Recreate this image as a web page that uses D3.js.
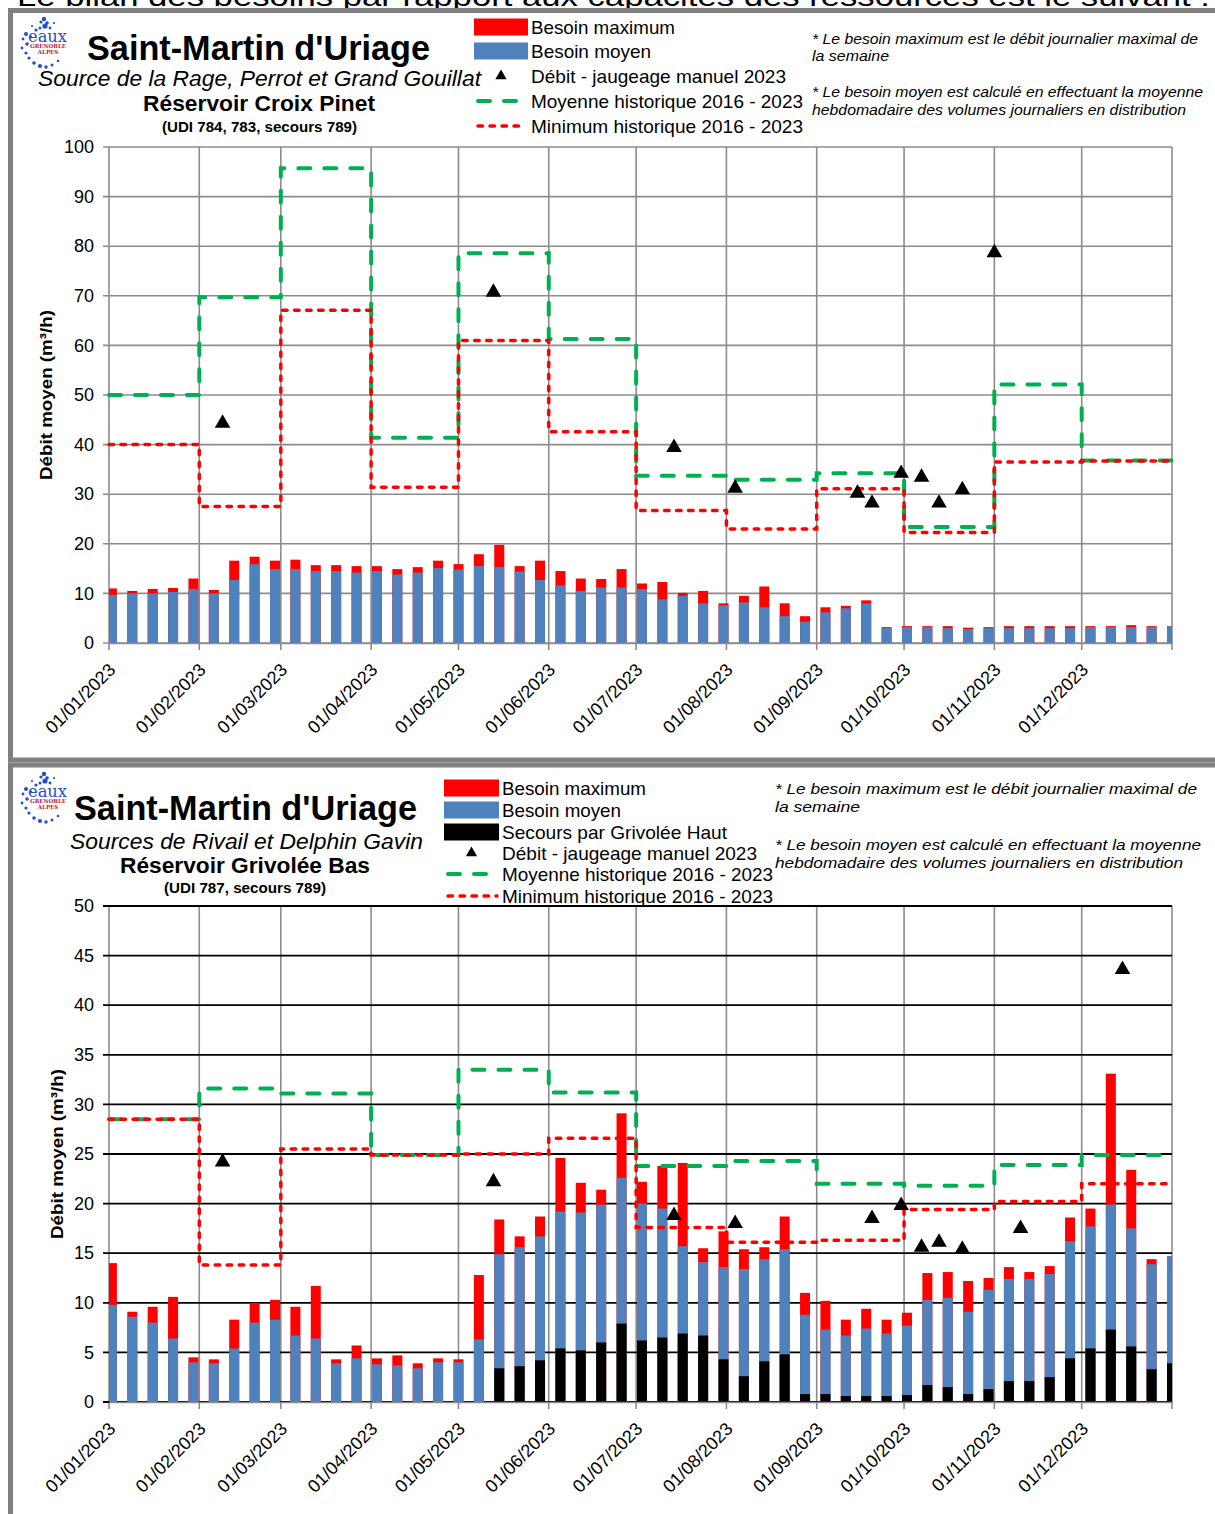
<!DOCTYPE html>
<html>
<head>
<meta charset="utf-8">
<script src="https://cdn.jsdelivr.net/npm/d3@7"></script>
<style>
  body { margin: 0; background: #fff; }
  text { font-family: "Liberation Sans", Arial, sans-serif; fill: #000; }
</style>
</head>
<body>
<div id="chart"></div>
<script>

// weekly categories (Mondays) and month boundaries
var weeks = ["2023-01-02","2023-01-09","2023-01-16","2023-01-23","2023-01-30",
  "2023-02-06","2023-02-13","2023-02-20","2023-02-27",
  "2023-03-06","2023-03-13","2023-03-20","2023-03-27",
  "2023-04-03","2023-04-10","2023-04-17","2023-04-24",
  "2023-05-01","2023-05-08","2023-05-15","2023-05-22","2023-05-29",
  "2023-06-05","2023-06-12","2023-06-19","2023-06-26",
  "2023-07-03","2023-07-10","2023-07-17","2023-07-24","2023-07-31",
  "2023-08-07","2023-08-14","2023-08-21","2023-08-28",
  "2023-09-04","2023-09-11","2023-09-18","2023-09-25",
  "2023-10-02","2023-10-09","2023-10-16","2023-10-23","2023-10-30",
  "2023-11-06","2023-11-13","2023-11-20","2023-11-27",
  "2023-12-04","2023-12-11","2023-12-18","2023-12-25","2024-01-01"];

var months = ["2023-01-01","2023-02-01","2023-03-01","2023-04-01","2023-05-01","2023-06-01",
  "2023-07-01","2023-08-01","2023-09-01","2023-10-01","2023-11-01","2023-12-01","2024-01-01"];

// Réservoir Croix Pinet
var topMax = [11.0,10.5,10.9,11.1,13.0,10.7,16.6,17.4,16.6,16.8,
  15.7,15.7,15.5,15.5,14.9,15.3,16.6,15.9,17.9,19.8,
  15.5,16.6,14.5,13.0,12.9,14.9,12.0,12.3,10.1,10.5,
  8.0,9.5,11.4,8.0,5.4,7.2,7.5,8.6,3.2,3.4,
  3.4,3.4,3.1,3.2,3.4,3.4,3.4,3.4,3.4,3.4,
  3.6,3.4,3.4];
var topMoy = [9.7,10.0,10.0,10.3,10.9,10.0,12.7,15.9,14.9,14.9,
  14.5,14.5,14.2,14.5,13.8,14.2,15.1,14.8,15.5,15.3,
  14.4,12.7,11.6,10.5,11.2,11.2,10.9,8.8,9.5,8.0,
  7.6,8.2,7.2,5.4,4.3,6.2,7.0,8.0,3.0,3.2,
  3.2,3.0,2.8,3.0,3.0,3.0,3.0,3.0,3.2,3.2,
  3.2,3.2,3.4];
var topMoyHist = [50.0,69.7,95.7,41.4,78.6,61.3,33.7,32.9,34.2,23.4,52.1,36.8];
var topMinHist = [40.0,27.5,67.1,31.4,61.0,42.6,26.7,23.0,31.1,22.3,36.5,36.7];
var topJaugeDates = ["2023-02-09","2023-05-13","2023-07-14","2023-08-04","2023-09-15","2023-09-20",
  "2023-09-30","2023-10-07","2023-10-13","2023-10-21","2023-11-01"];
var topJauge = [44.3,70.7,39.4,31.2,30.2,28.2,34.2,33.4,28.2,30.9,78.7];

// Réservoir Grivolée Bas
var botMax = [14.0,9.1,9.6,10.6,4.5,4.3,8.3,10.0,10.3,9.6,
  11.7,4.3,5.7,4.4,4.7,3.9,4.4,4.3,12.8,18.4,
  16.7,18.7,24.6,22.1,21.4,29.1,22.2,23.8,24.1,15.5,
  17.2,15.4,15.6,18.7,11.0,10.2,8.3,9.4,8.3,9.0,
  13.0,13.1,12.2,12.5,13.6,13.1,13.7,18.6,19.5,33.1,
  23.4,14.4,14.7];
var botMoy = [9.8,8.6,8.0,6.4,4.0,3.9,5.4,8.0,8.3,6.7,
  6.4,3.9,4.4,3.8,3.7,3.4,4.0,4.0,6.3,14.9,
  15.6,16.7,19.2,19.1,19.9,22.6,20.0,19.5,15.7,14.1,
  13.6,13.4,14.4,15.4,8.8,7.3,6.7,7.4,6.9,7.7,
  10.3,10.5,9.1,11.3,12.4,12.4,12.9,16.2,17.7,19.9,
  17.5,13.9,14.7];
var botSec = [0,0,0,0,0,0,0,0,0,0,
  0,0,0,0,0,0,0,0,0,3.4,
  3.6,4.2,5.4,5.2,6.0,7.9,6.2,6.5,6.9,6.7,
  4.3,2.6,4.1,4.8,0.8,0.8,0.6,0.6,0.6,0.7,
  1.7,1.5,0.8,1.3,2.1,2.1,2.5,4.4,5.4,7.3,
  5.6,3.3,3.9];
var botMoyHist = [28.5,31.6,31.1,24.9,33.5,31.2,23.8,24.3,22.0,21.8,23.9,24.9];
var botMinHist = [28.5,13.8,25.5,24.9,25.0,26.6,17.6,16.1,16.3,19.4,20.2,22.0];
var botJaugeDates = ["2023-02-09","2023-05-13","2023-07-14","2023-08-04","2023-09-20","2023-09-30",
  "2023-10-07","2023-10-13","2023-10-21","2023-11-10","2023-12-15"];
var botJauge = [24.2,22.2,18.8,18.0,18.5,19.8,15.6,16.1,15.4,17.5,43.6];

var RED = "#ff0000", BLUE = "#4f81bd", GREEN = "#00b050", GRID = "#8c8c8c";
var parse = d3.timeParse("%Y-%m-%d");
var fmt = d3.timeFormat("%d/%m/%Y");

var svg = d3.select("#chart").append("svg")
    .attr("width", 1215).attr("height", 1514)
    .style("display", "block");

function addText(g, o) {
    var t = g.append("text").attr("x", o.x).attr("y", o.y)
        .attr("font-size", o.size).text(o.t);
    if (o.bold) t.attr("font-weight", "bold");
    if (o.italic) t.attr("font-style", "italic");
    if (o.anchor) t.attr("text-anchor", o.anchor);
    if (o.len) t.attr("textLength", o.len).attr("lengthAdjust", "spacingAndGlyphs");
    return t;
}

function drawLogo(g, x0, y0) {
    var lg = g.append("g").attr("transform", "translate(" + x0 + "," + y0 + ")");
    var dots = [[24,2,2.2],[21,5,1.6],[27,6,1.8],[25,9,2.6],[20,11,1.5],[30,11,1.4],[16,13,1.6],
        [6,17,2],[3,22,1.4],[7,27,1.8],[2,31,1.4],[6,36,1.6],[9,41,1.6],[14,46,1.8],
        [20,49,2],[26,50,1.7],[32,48,1.5],[38,44,1.3],[12,9,1.1],[34,6,1.1],[11,20,1.2]];
    lg.selectAll("circle").data(dots).enter().append("circle")
        .attr("cx", function(d) { return d[0]; })
        .attr("cy", function(d) { return d[1]; })
        .attr("r", function(d) { return d[2]; })
        .attr("fill", "#2350c8");
    lg.append("text").attr("x", 8).attr("y", 25).attr("font-size", 16)
        .style("font-family", "'DejaVu Serif', serif").style("fill", "#2350c8")
        .attr("textLength", 39).attr("lengthAdjust", "spacingAndGlyphs").text("eaux");
    lg.append("text").attr("x", 28).attr("y", 31).attr("font-size", 5.5).attr("font-weight", "bold")
        .attr("text-anchor", "middle").style("font-family", "'DejaVu Serif', serif").style("fill", "#c0143c")
        .text("GRENOBLE");
    lg.append("text").attr("x", 28).attr("y", 36.5).attr("font-size", 5.5).attr("font-weight", "bold")
        .attr("text-anchor", "middle").style("font-family", "'DejaVu Serif', serif").style("fill", "#c0143c")
        .text("ALPES");
}

function drawHeader(g, h) {
    drawLogo(g, h.logo[0], h.logo[1]);
    addText(g, {t: "Saint-Martin d'Uriage", x: h.title[0], y: h.title[1], size: 35, bold: true, len: 343});
    addText(g, {t: h.sub, x: h.subPos[0], y: h.subPos[1], size: 22, italic: true, len: h.subPos[2]});
    addText(g, {t: h.res, x: h.resPos[0], y: h.resPos[1], size: 21.5, bold: true, len: h.resPos[2]});
    addText(g, {t: h.udi, x: h.udiPos[0], y: h.udiPos[1], size: 14, bold: true, len: h.udiPos[2]});

    // legend
    var L = h.legend;
    L.items.forEach(function(it, i) {
        var cy = L.rows[i];
        if (it.type == "rect") {
            g.append("rect").attr("x", L.x0).attr("y", cy - 8.5)
                .attr("width", L.x1 - L.x0).attr("height", 17).attr("fill", it.color);
        } else if (it.type == "tri") {
            g.append("path").attr("d", d3.symbol().type(d3.symbolTriangle).size(55)())
                .attr("transform", "translate(" + (L.x0 + L.x1) / 2 + "," + cy + ")")
                .attr("fill", "#000");
        } else {
            g.append("line").attr("x1", L.x0 + 4).attr("x2", L.x1 - 2)
                .attr("y1", cy).attr("y2", cy)
                .attr("stroke", it.color).attr("stroke-width", it.w)
                .attr("stroke-dasharray", it.dash).attr("stroke-linecap", "round");
        }
        addText(g, {t: it.label, x: L.tx, y: cy + 6.5, size: 18.5, len: it.len});
    });

    // notes
    h.notes.forEach(function(n) {
        addText(g, {t: n[0], x: h.notesX, y: n[1], size: 15, italic: true, len: n[2]});
    });
}

function drawChart(g, c) {
    var x = d3.scaleTime()
        .domain([parse(months[0]), parse(months[12])])
        .range([109, 1172]);
    var y = d3.scaleLinear().domain([0, c.yMax]).range([c.bottom, c.top]);

    g.append("clipPath").attr("id", "clip" + c.id)
        .append("rect").attr("x", 109).attr("y", c.top - 10)
        .attr("width", 1063).attr("height", c.bottom - c.top + 10);

    // grid
    var yt = d3.range(0, c.yMax + 0.001, c.yStep);
    g.append("g").selectAll("line").data(months).enter().append("line")
        .attr("x1", function(d) { return x(parse(d)); })
        .attr("x2", function(d) { return x(parse(d)); })
        .attr("y1", c.top).attr("y2", c.bottom + 7)
        .attr("stroke", GRID).attr("stroke-width", 1.6);
    g.append("g").selectAll("line").data(yt).enter().append("line")
        .attr("x1", 103).attr("x2", 1172)
        .attr("y1", function(d) { return y(d); })
        .attr("y2", function(d) { return y(d); })
        .attr("stroke", c.hGrid).attr("stroke-width", c.hWidth);

    // bars (overlapping: max behind, moyen, then secours)
    var bw = 10;
    var bars = g.append("g").attr("clip-path", "url(#clip" + c.id + ")");
    c.series.forEach(function(s) {
        bars.append("g").selectAll("rect").data(s.vals).enter().append("rect")
            .attr("x", function(d, i) { return x(parse(weeks[i])) - bw / 2; })
            .attr("width", bw)
            .attr("y", function(d) { return y(d); })
            .attr("height", function(d) { return y(0) - y(d); })
            .attr("fill", s.color);
    });

    // historical monthly lines
    var line = d3.line()
        .x(function(d) { return x(parse(d[0])); })
        .y(function(d) { return y(d[1]); })
        .curve(d3.curveStepAfter);
    function steps(vals) {
        var pts = vals.map(function(v, i) { return [months[i], v]; });
        pts.push([months[12], vals[vals.length - 1]]);
        return pts;
    }
    g.append("path").datum(steps(c.moyHist)).attr("d", line)
        .attr("fill", "none").attr("stroke", GREEN).attr("stroke-width", 4)
        .attr("stroke-dasharray", "12,14").attr("stroke-linecap", "round");
    g.append("path").datum(steps(c.minHist)).attr("d", line)
        .attr("fill", "none").attr("stroke", RED).attr("stroke-width", 3.5)
        .attr("stroke-dasharray", "4.5,7.5").attr("stroke-linecap", "round");

    // manual gauging
    g.append("g").selectAll("path").data(c.jVals).enter().append("path")
        .attr("d", d3.symbol().type(d3.symbolTriangle).size(105)())
        .attr("transform", function(d, i) {
            return "translate(" + x(parse(c.jDates[i])) + "," + y(d) + ")";
        })
        .attr("fill", "#000");

    // axes
    var ya = g.append("g").attr("transform", "translate(109,0)")
        .call(d3.axisLeft(y).tickValues(yt).tickSize(0).tickPadding(15));
    ya.select(".domain").remove();
    ya.selectAll("text").attr("font-size", 18).style("font-family", "'Liberation Sans', Arial, sans-serif");

    var xa = g.append("g").attr("transform", "translate(0," + c.bottom + ")")
        .call(d3.axisBottom(x).tickValues(months.map(parse)).tickSize(0)
            .tickFormat(function(d) { return d.getFullYear() == 2023 ? fmt(d) : ""; }));
    xa.select(".domain").attr("stroke", GRID).attr("stroke-width", 1.6);
    xa.selectAll("text")
        .attr("x", 0).attr("y", 0).attr("dy", 0)
        .attr("text-anchor", "end")
        .attr("font-size", 18)
        .style("font-family", "'Liberation Sans', Arial, sans-serif")
        .attr("transform", "translate(7,28) rotate(-45)");

    g.append("text")
        .attr("transform", "translate(" + c.labelX + "," + (c.top + c.bottom) / 2 + ") rotate(-90)")
        .attr("text-anchor", "middle").attr("dy", "0.35em")
        .attr("font-size", 17).attr("font-weight", "bold")
        .attr("textLength", 170).attr("lengthAdjust", "spacingAndGlyphs")
        .text("Débit moyen (m³/h)");
}

// partly visible sentence above the panels
addText(svg, {t: "Le bilan des besoins par rapport aux capacités des ressources est le suivant :",
    x: 17, y: 6, size: 27, len: 1193});

var p1 = svg.append("g");
drawHeader(p1, {
    logo: [20, 17],
    title: [87, 60],
    sub: "Source de la Rage, Perrot et Grand Gouillat", subPos: [38, 86, 443],
    res: "Réservoir Croix Pinet", resPos: [143, 111, 232],
    udi: "(UDI 784, 783, secours 789)", udiPos: [162, 131.5, 195],
    legend: {x0: 474, x1: 528, tx: 531, rows: [27, 51, 76, 101, 126],
        items: [
            {type: "rect", color: RED, label: "Besoin maximum", len: 144},
            {type: "rect", color: BLUE, label: "Besoin moyen", len: 120},
            {type: "tri", label: "Débit - jaugeage manuel 2023", len: 255},
            {type: "line", color: GREEN, w: 4, dash: "12,14", label: "Moyenne historique 2016 - 2023", len: 272},
            {type: "line", color: RED, w: 3.5, dash: "4.5,7.5", label: "Minimum historique 2016 - 2023", len: 272}
        ]},
    notesX: 812,
    notes: [["* Le besoin maximum est le débit journalier maximal de", 43.5, 386],
        ["la semaine", 61, 77],
        ["* Le besoin moyen est calculé en effectuant la moyenne", 97, 391],
        ["hebdomadaire des volumes journaliers en distribution", 115, 374]]
});
drawChart(p1, {
    id: 1, top: 147, bottom: 643, yMax: 100, yStep: 10,
    hGrid: GRID, hWidth: 1.6, labelX: 46,
    series: [{vals: topMax, color: RED}, {vals: topMoy, color: BLUE}],
    moyHist: topMoyHist, minHist: topMinHist,
    jDates: topJaugeDates, jVals: topJauge
});

var p2 = svg.append("g");
drawHeader(p2, {
    logo: [20, 772],
    title: [74, 820],
    sub: "Sources de Rivail et Delphin Gavin", subPos: [70, 849, 353],
    res: "Réservoir Grivolée Bas", resPos: [120, 873, 250],
    udi: "(UDI 787, secours 789)", udiPos: [164, 892.5, 162],
    legend: {x0: 444, x1: 499, tx: 502, rows: [788, 810, 832, 853, 874, 896],
        items: [
            {type: "rect", color: RED, label: "Besoin maximum", len: 144},
            {type: "rect", color: BLUE, label: "Besoin moyen", len: 119},
            {type: "rect", color: "#000", label: "Secours par Grivolée Haut", len: 225},
            {type: "tri", label: "Débit - jaugeage manuel 2023", len: 255},
            {type: "line", color: GREEN, w: 4, dash: "12,14", label: "Moyenne historique 2016 - 2023", len: 271},
            {type: "line", color: RED, w: 3.5, dash: "4.5,7.5", label: "Minimum historique 2016 - 2023", len: 271}
        ]},
    notesX: 775,
    notes: [["* Le besoin maximum est le débit journalier maximal de", 793.5, 422],
        ["la semaine", 811.5, 85],
        ["* Le besoin moyen est calculé en effectuant la moyenne", 850, 426],
        ["hebdomadaire des volumes journaliers en distribution", 868, 408]]
});
drawChart(p2, {
    id: 2, top: 906, bottom: 1402, yMax: 50, yStep: 5,
    hGrid: "#000", hWidth: 1.8, labelX: 57,
    series: [{vals: botMax, color: RED}, {vals: botMoy, color: BLUE}, {vals: botSec, color: "#000"}],
    moyHist: botMoyHist, minHist: botMinHist,
    jDates: botJaugeDates, jVals: botJauge
});

// panel frames
svg.append("rect").attr("x", 10.5).attr("y", 10.5).attr("width", 1240).attr("height", 749.5)
    .attr("fill", "none").attr("stroke", "#808080").attr("stroke-width", 5);
svg.append("rect").attr("x", 10.5).attr("y", 765).attr("width", 1240).attr("height", 800)
    .attr("fill", "none").attr("stroke", "#808080").attr("stroke-width", 5);

</script>
</body>
</html>
